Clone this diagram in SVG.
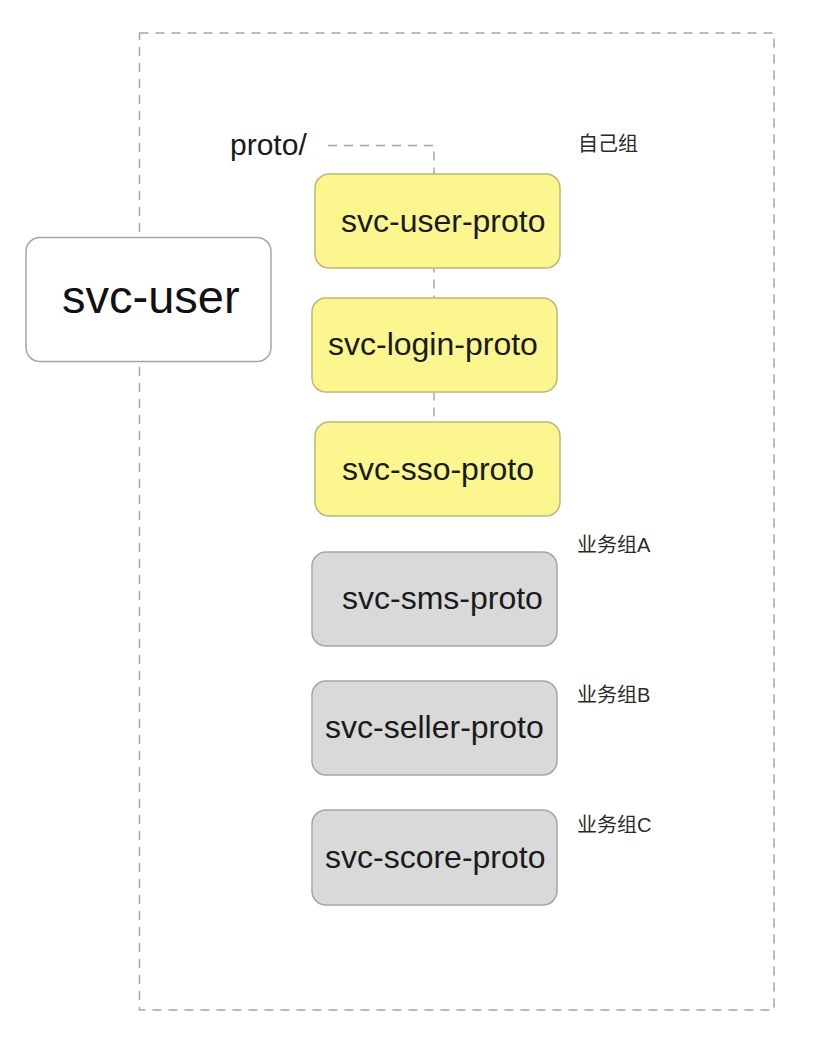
<svg xmlns="http://www.w3.org/2000/svg" width="816" height="1052" viewBox="0 0 816 1052">
<style>
.dash{fill:none;stroke:#a6a6a6;stroke-width:1.5;stroke-dasharray:9 7}
.yel{fill:#fcf68e;stroke:#bdb87a;stroke-width:1.5}
.gry{fill:#d9d9d9;stroke:#a6a6a6;stroke-width:1.5}
.lbl{font-family:"Liberation Sans",Arial,sans-serif;font-size:32px;fill:#1a1a1a}
.cjk{font-family:"Liberation Sans","Noto Sans CJK SC",sans-serif;font-size:20px;fill:#2a2a2a}
</style>
<rect width="816" height="1052" fill="#ffffff"/>
<g id="frame">
<rect class="dash" x="139.5" y="33" width="634.5" height="977"/>
</g>
<g id="connectors">
<path class="dash" d="M328 145.5 H434 V420"/>
</g>
<g id="proto-label"><text x="230" y="155" style="font-family:'Liberation Sans',Arial,sans-serif;font-size:30px;fill:#1a1a1a">proto/</text></g>
<g id="svc-user">
<rect x="26" y="237.5" width="245" height="124" rx="14" fill="#ffffff" stroke="#a6a6a6" stroke-width="1.5"/>
<text x="62" y="313" style="font-family:'Liberation Sans',Arial,sans-serif;font-size:47px;fill:#111111">svc-user</text>
</g>
<g id="svc-user-proto">
<rect class="yel" x="315" y="174" width="245" height="94" rx="14"/>
<text class="lbl" x="341" y="232">svc-user-proto</text>
</g>
<g id="svc-login-proto">
<rect class="yel" x="312" y="298" width="245" height="94" rx="14"/>
<text class="lbl" x="328" y="355">svc-login-proto</text>
</g>
<g id="svc-sso-proto">
<rect class="yel" x="315" y="422" width="245" height="94" rx="14"/>
<text class="lbl" x="342" y="480">svc-sso-proto</text>
</g>
<g id="svc-sms-proto">
<rect class="gry" x="312" y="552" width="245" height="94" rx="14"/>
<text class="lbl" x="342" y="609">svc-sms-proto</text>
</g>
<g id="svc-seller-proto">
<rect class="gry" x="312" y="681" width="245" height="94" rx="14"/>
<text class="lbl" x="325" y="738">svc-seller-proto</text>
</g>
<g id="svc-score-proto">
<rect class="gry" x="312" y="810" width="245" height="95" rx="14"/>
<text class="lbl" x="325" y="868">svc-score-proto</text>
</g>
<g id="group-labels">
<text class="cjk" x="578" y="151">自己组</text>
<text class="cjk" x="577" y="552">业务组A</text>
<text class="cjk" x="577" y="702">业务组B</text>
<text class="cjk" x="577" y="832">业务组C</text>
</g>
</svg>
